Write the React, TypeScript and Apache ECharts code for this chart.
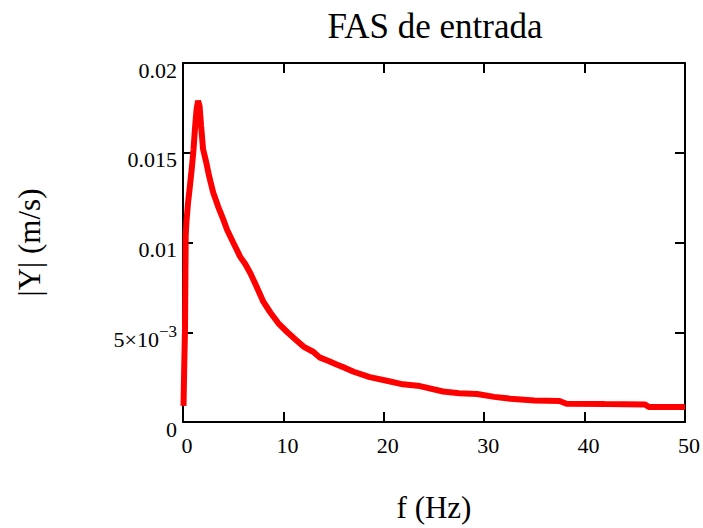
import React, { useEffect, useRef } from "react";
import * as echarts from "echarts";

const titleText = "FAS de entrada";
const xName = "f (Hz)";
const yName = "|Y| (m/s)";

const freq = [
  0.05, 0.12, 0.2, 0.27, 0.35, 0.5, 0.7, 0.87, 1.05, 1.2, 1.35, 1.5, 1.65, 1.8, 2.0,
  2.3, 2.6, 3.0, 3.5, 4.0, 4.4, 5.0, 5.7, 6.2, 6.7, 7.2, 7.6, 8.0, 8.7, 9.5, 10.4,
  11.2, 12.0, 13.0, 13.6, 14.5, 15.3, 16.2, 17.0, 18.6, 20.3, 21.9, 23.6, 25.9,
  27.5, 29.3, 31.0, 32.6, 35.0, 37.5, 38.2, 42.0, 46.0, 46.4, 50.0,
];
const amplitude = [
  0.0009, 0.0030, 0.0052, 0.0104, 0.0112, 0.0122, 0.0132, 0.0141, 0.0152, 0.0164, 0.0174, 0.0179, 0.0176, 0.0165, 0.0152,
  0.0145, 0.0137, 0.0128, 0.0120, 0.0113, 0.0107, 0.0100, 0.0092, 0.0088, 0.0083, 0.0077, 0.0072, 0.0067, 0.0061, 0.0055, 0.0050,
  0.0046, 0.0042, 0.0039, 0.0036, 0.0034, 0.0032, 0.0030, 0.0028, 0.0025, 0.0023, 0.0021, 0.0020, 0.0017,
  0.0016, 0.00156, 0.0014, 0.0013, 0.0012, 0.00117, 0.00102, 0.0010, 0.00098, 0.00084, 0.00084,
];

const xTickLabels = ["0", "10", "20", "30", "40", "50"];
const yTickLabels = ["0", "{b|5×10}{s|−3}", "0.01", "0.015", "0.02"];

const serif = "'Liberation Serif', 'DejaVu Serif', serif";

export default function App() {
  const ref = useRef<HTMLDivElement>(null);
  useEffect(() => {
    document.body.style.margin = "0";
    const chart = echarts.init(ref.current!, null, { renderer: "svg" });
    const data = freq.map((f, i) => [f, amplitude[i]]);
    const axisLine = { show: true, onZero: false, lineStyle: { color: "#000", width: 2 } };
    const axisTick = { show: true, inside: true, length: 10, lineStyle: { color: "#000", width: 2 } };
    chart.setOption({
      animation: false,
      backgroundColor: "#fff",
      title: {
        text: titleText,
        left: 430,
        top: 4,
        textAlign: "center",
        textStyle: { fontFamily: serif, fontSize: 35, fontWeight: "normal", color: "#000" },
      },
      grid: { left: 183, right: 18, top: 63, bottom: 105 },
      xAxis: [
        {
          type: "value",
          min: 0,
          max: 50,
          interval: 10,
          position: "bottom",
          axisLine,
          axisTick,
          splitLine: { show: false },
          axisLabel: {
            fontFamily: serif,
            fontSize: 22,
            color: "#000",
            margin: 12,
            padding: [0, 0, 0, 8],
            formatter: (v: number) => xTickLabels[Math.round(v / 10)],
          },
          name: xName,
          nameLocation: "middle",
          nameGap: 70,
          nameTextStyle: { fontFamily: serif, fontSize: 31, color: "#000" },
        },
        {
          type: "value",
          min: 0,
          max: 50,
          interval: 10,
          position: "top",
          axisLine,
          axisTick,
          splitLine: { show: false },
          axisLabel: { show: false },
        },
      ],
      yAxis: [
        {
          type: "value",
          min: 0,
          max: 0.02,
          interval: 0.005,
          position: "left",
          axisLine,
          axisTick,
          splitLine: { show: false },
          axisLabel: {
            fontFamily: serif,
            fontSize: 22,
            color: "#000",
            margin: 6,
            padding: [14, 0, 0, 0],
            formatter: (v: number) => yTickLabels[Math.round(v / 0.005)],
            rich: {
              b: { fontFamily: serif, fontSize: 22, color: "#000" },
              s: { fontFamily: serif, fontSize: 17, color: "#000", padding: [0, 0, 16, 0] },
            },
          },
          name: yName,
          nameLocation: "middle",
          nameGap: 138,
          nameTextStyle: { fontFamily: serif, fontSize: 31, color: "#000" },
        },
        {
          type: "value",
          min: 0,
          max: 0.02,
          interval: 0.005,
          position: "right",
          axisLine,
          axisTick,
          splitLine: { show: false },
          axisLabel: { show: false },
        },
      ],
      series: [
        {
          type: "line",
          data,
          showSymbol: false,
          symbol: "none",
          lineStyle: { color: "#ff0000", width: 6 },
          itemStyle: { color: "#ff0000" },
          clip: true,
        },
      ],
    });
    return () => chart.dispose();
  }, []);
  return <div ref={ref} style={{ width: 703, height: 528 }} />;
}
